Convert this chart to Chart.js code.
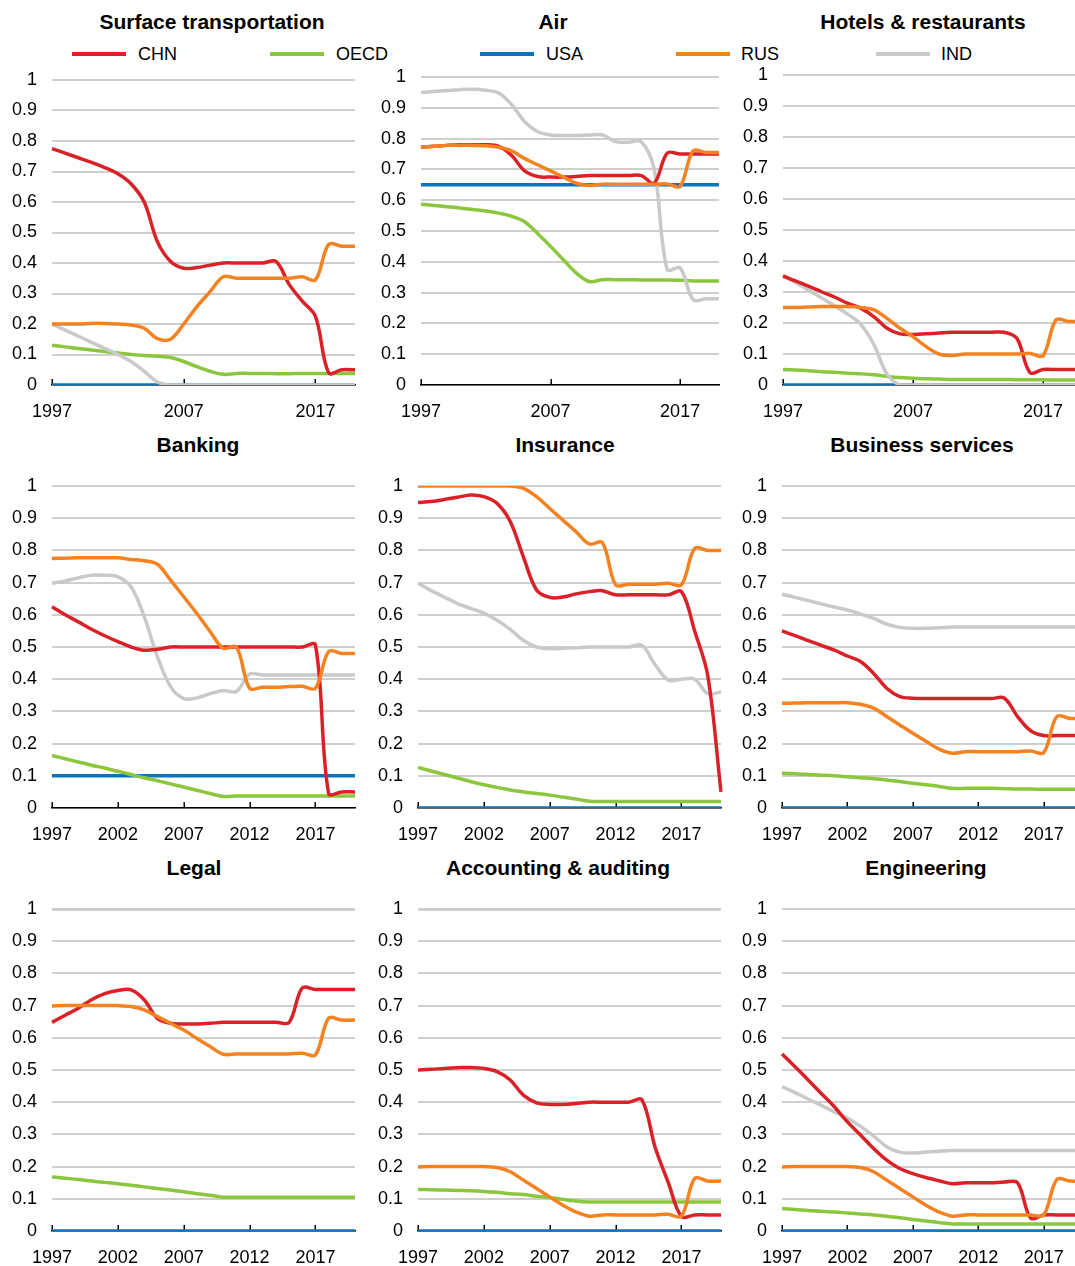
<!DOCTYPE html>
<html><head><meta charset="utf-8">
<script src="https://cdn.jsdelivr.net/npm/chart.js@4.4.1/dist/chart.umd.min.js"></script>
<style>
html,body{margin:0;padding:0;background:#fff;}
body{width:1075px;height:1266px;overflow:hidden;position:relative;font-family:'Liberation Sans Narrow','Arial Narrow','Liberation Sans',sans-serif;color:#000;}
.t{position:absolute;font-weight:bold;font-size:21px;line-height:26px;transform:translateX(-50%);white-space:nowrap;}
.ll{position:absolute;height:4px;width:54px;top:52px;}
.lt{position:absolute;top:43px;font-size:18px;line-height:22px;}
canvas{position:absolute;}
</style></head><body>
<script>
const years = ['1997','1998','1999','2000','2001','2002','2003','2004','2005','2006','2007','2008','2009','2010','2011','2012','2013','2014','2015','2016','2017','2018','2019','2020'];
const seriesNames = ['CHN','OECD','USA','RUS','IND'];
const panelTitles = ['Surface transportation','Air','Hotels & restaurants','Banking','Insurance','Business services','Legal','Accounting & auditing','Engineering'];
const tickYearsTop = ['1997','2007','2017'];
const tickYearsLower = ['1997','2002','2007','2012','2017'];
const yTicks = [0,0.1,0.2,0.3,0.4,0.5,0.6,0.7,0.8,0.9,1];

// Surface transportation
const surfCHN = [0.775,0.76,0.745,0.73,0.713,0.693,0.66,0.6,0.47,0.405,0.383,0.385,0.393,0.4,0.4,0.4,0.4,0.405,0.33,0.275,0.225,0.04,0.05,0.05];
const surfOECD = [0.13,0.125,0.12,0.115,0.11,0.105,0.1,0.097,0.094,0.09,0.077,0.06,0.045,0.035,0.038,0.038,0.038,0.037,0.037,0.038,0.038,0.038,0.038,0.038];
const surfUSA = [0,0,0,0,0,0,0,0,0,0,0,0,0,0,0,0,0,0,0,0,0,0,0,0];
const surfRUS = [0.2,0.2,0.2,0.202,0.202,0.2,0.197,0.186,0.152,0.15,0.2,0.257,0.306,0.355,0.35,0.35,0.35,0.35,0.35,0.355,0.345,0.461,0.455,0.455];
const surfIND = [0.2,0.18,0.16,0.14,0.12,0.1,0.077,0.045,0.01,0,0,0,0,0,0,0,0,0,0,0,0,0,0,0];
// Air
const airCHN = [0.772,0.775,0.778,0.78,0.78,0.78,0.775,0.745,0.695,0.677,0.675,0.675,0.677,0.68,0.68,0.68,0.68,0.68,0.655,0.753,0.75,0.75,0.75,0.75];
const airOECD = [0.587,0.583,0.579,0.575,0.57,0.565,0.558,0.548,0.53,0.492,0.45,0.406,0.363,0.336,0.342,0.342,0.342,0.341,0.341,0.341,0.34,0.338,0.338,0.338];
const airUSA = [0.65,0.65,0.65,0.65,0.65,0.65,0.65,0.65,0.65,0.65,0.65,0.65,0.65,0.65,0.65,0.65,0.65,0.65,0.65,0.65,0.65,0.65,0.65,0.65];
const airRUS = [0.772,0.775,0.778,0.778,0.778,0.777,0.772,0.76,0.735,0.715,0.695,0.675,0.655,0.648,0.652,0.652,0.652,0.652,0.652,0.653,0.645,0.76,0.755,0.755];
const airIND = [0.95,0.953,0.956,0.959,0.96,0.957,0.948,0.91,0.855,0.823,0.812,0.81,0.81,0.812,0.812,0.79,0.788,0.79,0.7,0.375,0.38,0.277,0.28,0.28];
// Hotels & restaurants
const hotCHN = [0.352,0.335,0.318,0.3,0.283,0.263,0.247,0.22,0.183,0.165,0.163,0.165,0.168,0.17,0.17,0.17,0.17,0.17,0.15,0.04,0.05,0.05,0.05,0.05];
const hotOECD = [0.05,0.048,0.046,0.043,0.041,0.038,0.036,0.033,0.028,0.024,0.022,0.02,0.019,0.018,0.018,0.018,0.018,0.018,0.017,0.017,0.017,0.016,0.016,0.016];
const hotUSA = [0,0,0,0,0,0,0,0,0,0,0,0,0,0,0,0,0,0,0,0,0,0,0,0];
const hotRUS = [0.25,0.25,0.252,0.253,0.253,0.253,0.25,0.242,0.215,0.183,0.156,0.124,0.1,0.095,0.1,0.1,0.1,0.1,0.1,0.102,0.094,0.21,0.205,0.205];
const hotIND = [0.352,0.33,0.305,0.28,0.255,0.228,0.195,0.13,0.035,0,0,0,0,0,0,0,0,0,0,0,0,0,0,0];
// Banking
const bankCHN = [0.625,0.6,0.578,0.555,0.535,0.517,0.5,0.49,0.493,0.5,0.5,0.5,0.5,0.5,0.5,0.5,0.5,0.5,0.5,0.5,0.506,0.045,0.05,0.05];
const bankOECD = [0.163,0.153,0.143,0.133,0.124,0.114,0.104,0.094,0.085,0.075,0.065,0.055,0.045,0.036,0.037,0.037,0.037,0.037,0.037,0.037,0.037,0.037,0.037,0.037];
const bankUSA = [0.1,0.1,0.1,0.1,0.1,0.1,0.1,0.1,0.1,0.1,0.1,0.1,0.1,0.1,0.1,0.1,0.1,0.1,0.1,0.1,0.1,0.1,0.1,0.1];
const bankRUS = [0.775,0.776,0.777,0.777,0.777,0.777,0.772,0.768,0.757,0.708,0.656,0.604,0.548,0.496,0.5,0.372,0.375,0.375,0.377,0.378,0.372,0.486,0.48,0.48];
const bankIND = [0.698,0.705,0.715,0.723,0.723,0.718,0.687,0.594,0.47,0.377,0.34,0.342,0.355,0.365,0.362,0.416,0.413,0.413,0.413,0.413,0.413,0.413,0.413,0.413];
// Insurance
const insCHN = [0.949,0.952,0.958,0.965,0.972,0.967,0.946,0.89,0.78,0.677,0.654,0.655,0.665,0.672,0.675,0.662,0.662,0.662,0.662,0.662,0.672,0.55,0.41,0.05];
const insOECD = [0.126,0.115,0.104,0.093,0.082,0.072,0.064,0.056,0.05,0.045,0.04,0.034,0.028,0.021,0.02,0.02,0.02,0.02,0.02,0.02,0.02,0.02,0.02,0.02];
const insUSA = [0,0,0,0,0,0,0,0,0,0,0,0,0,0,0,0,0,0,0,0,0,0,0,0];
const insRUS = [1,1,1,1,1,1,1,1,0.993,0.967,0.93,0.894,0.858,0.82,0.824,0.693,0.695,0.695,0.695,0.698,0.693,0.806,0.8,0.8];
const insIND = [0.698,0.675,0.655,0.635,0.62,0.605,0.583,0.555,0.52,0.5,0.495,0.496,0.498,0.5,0.5,0.5,0.5,0.505,0.445,0.397,0.4,0.4,0.355,0.36];
// Business services
const busCHN = [0.55,0.535,0.52,0.505,0.49,0.472,0.455,0.418,0.372,0.346,0.341,0.34,0.34,0.34,0.34,0.34,0.34,0.341,0.284,0.24,0.225,0.225,0.225,0.225];
const busOECD = [0.108,0.106,0.104,0.102,0.1,0.097,0.094,0.091,0.087,0.082,0.077,0.072,0.067,0.061,0.061,0.061,0.061,0.06,0.059,0.059,0.058,0.058,0.058,0.058];
const busUSA = [0,0,0,0,0,0,0,0,0,0,0,0,0,0,0,0,0,0,0,0,0,0,0,0];
const busRUS = [0.325,0.326,0.327,0.327,0.327,0.327,0.322,0.31,0.284,0.258,0.232,0.207,0.183,0.17,0.175,0.175,0.175,0.175,0.175,0.177,0.172,0.284,0.278,0.278];
const busIND = [0.664,0.654,0.644,0.634,0.624,0.615,0.602,0.589,0.571,0.561,0.558,0.558,0.56,0.562,0.562,0.562,0.562,0.562,0.562,0.562,0.562,0.562,0.562,0.562];
// Legal
const legCHN = [0.648,0.67,0.692,0.718,0.737,0.747,0.749,0.718,0.66,0.645,0.643,0.643,0.645,0.648,0.648,0.648,0.648,0.648,0.648,0.755,0.75,0.75,0.75,0.75];
const legOECD = [0.168,0.164,0.16,0.155,0.151,0.147,0.142,0.137,0.132,0.127,0.122,0.116,0.111,0.105,0.105,0.105,0.105,0.105,0.105,0.105,0.105,0.105,0.105,0.105];
const legUSA = [0,0,0,0,0,0,0,0,0,0,0,0,0,0,0,0,0,0,0,0,0,0,0,0];
const legRUS = [0.699,0.7,0.7,0.7,0.7,0.7,0.697,0.687,0.666,0.645,0.624,0.598,0.573,0.549,0.55,0.55,0.55,0.55,0.55,0.552,0.547,0.661,0.655,0.655];
const legIND = [1,1,1,1,1,1,1,1,1,1,1,1,1,1,1,1,1,1,1,1,1,1,1,1];
// Accounting & auditing
const accCHN = [0.5,0.502,0.505,0.507,0.508,0.505,0.495,0.469,0.422,0.398,0.393,0.393,0.396,0.4,0.4,0.4,0.4,0.407,0.26,0.15,0.045,0.05,0.05,0.05];
const accOECD = [0.129,0.128,0.127,0.126,0.125,0.123,0.12,0.116,0.113,0.108,0.104,0.098,0.093,0.09,0.09,0.09,0.09,0.09,0.09,0.09,0.09,0.09,0.09,0.09];
const accUSA = [0,0,0,0,0,0,0,0,0,0,0,0,0,0,0,0,0,0,0,0,0,0,0,0];
const accRUS = [0.199,0.2,0.2,0.2,0.2,0.2,0.197,0.184,0.158,0.132,0.106,0.08,0.059,0.046,0.05,0.05,0.05,0.05,0.05,0.052,0.046,0.163,0.155,0.155];
const accIND = [1,1,1,1,1,1,1,1,1,1,1,1,1,1,1,1,1,1,1,1,1,1,1,1];
// Engineering
const engCHN = [0.55,0.51,0.469,0.427,0.386,0.339,0.298,0.256,0.22,0.194,0.178,0.166,0.156,0.147,0.15,0.15,0.15,0.152,0.15,0.04,0.05,0.05,0.05,0.05];
const engOECD = [0.07,0.067,0.064,0.061,0.059,0.056,0.053,0.05,0.046,0.041,0.036,0.031,0.026,0.022,0.022,0.022,0.022,0.022,0.022,0.022,0.022,0.022,0.022,0.022];
const engUSA = [0,0,0,0,0,0,0,0,0,0,0,0,0,0,0,0,0,0,0,0,0,0,0,0];
const engRUS = [0.199,0.2,0.2,0.2,0.2,0.2,0.197,0.184,0.158,0.132,0.106,0.08,0.059,0.046,0.05,0.05,0.05,0.05,0.05,0.05,0.05,0.16,0.155,0.155];
const engIND = [0.448,0.43,0.41,0.39,0.37,0.35,0.325,0.295,0.262,0.245,0.242,0.245,0.248,0.25,0.25,0.25,0.25,0.25,0.25,0.25,0.25,0.25,0.25,0.25];

const panelData = [
  [surfCHN,surfOECD,surfUSA,surfRUS,surfIND],
  [airCHN,airOECD,airUSA,airRUS,airIND],
  [hotCHN,hotOECD,hotUSA,hotRUS,hotIND],
  [bankCHN,bankOECD,bankUSA,bankRUS,bankIND],
  [insCHN,insOECD,insUSA,insRUS,insIND],
  [busCHN,busOECD,busUSA,busRUS,busIND],
  [legCHN,legOECD,legUSA,legRUS,legIND],
  [accCHN,accOECD,accUSA,accRUS,accIND],
  [engCHN,engOECD,engUSA,engRUS,engIND]
];

// styling / layout (not data)
const colors = {CHN:'#DA2128',OECD:'#8CC63F',USA:'#0A74BC',RUS:'#F58220',IND:'#C9C9C9'};
const drawOrder = {CHN:1,OECD:3,USA:4,RUS:0,IND:2};
const FONT = "'Liberation Sans Narrow','Arial Narrow','Liberation Sans',sans-serif";
// plot rectangles [left,right,top,bottom]
const rects = [
  [52,355,80,385],[421,719,77,385],[783,1082,75,385],
  [52,355,486,808],[418,721,486,808],[782,1083,486,808],
  [52,355,909,1231],[418,721,909,1231],[782,1083,909,1231]
];
const titlePos = [[212,22],[553,22],[923,22],[198,445],[565,445],[922,445],[194,868],[558,868],[926,868]];
const legendPos = [[72,138],[270,336],[480,546],[676,741],[876,941]];

// legend
seriesNames.forEach((n,i)=>{
  const l=document.createElement('div'); l.className='ll'; l.style.left=legendPos[i][0]+'px'; l.style.background=colors[n]; document.body.appendChild(l);
  const t=document.createElement('div'); t.className='lt'; t.style.left=legendPos[i][1]+'px'; t.textContent=n; document.body.appendChild(t);
});

const upTicks = {
  id:'upTicks',
  beforeDatasetsDraw(chart, args, opts){
    const xs=chart.scales.x, ys=chart.scales.y, ctx=chart.ctx;
    const base=ys.getPixelForValue(0);
    ctx.save(); ctx.strokeStyle='#000'; ctx.lineWidth=1.5;
    opts.show.forEach(yr=>{
      const px=Math.round(xs.getPixelForValue(years.indexOf(yr)))+0.25;
      ctx.beginPath(); ctx.moveTo(px,base); ctx.lineTo(px,base-6); ctx.stroke();
    });
    ctx.restore();
  }
};

const TOPPAD=12, RPAD=6, YW=52, XH=44;
panelData.forEach((series,p)=>{
  const [pl,pr,pt,pb]=rects[p];
  const tt=document.createElement('div'); tt.className='t'; tt.textContent=panelTitles[p];
  tt.style.left=titlePos[p][0]+'px'; tt.style.top=(titlePos[p][1]-13)+'px'; document.body.appendChild(tt);
  const cv=document.createElement('canvas');
  const w=(pr-pl)+YW+RPAD, h=(pb-pt)+TOPPAD+XH;
  cv.width=w; cv.height=h; cv.style.width=w+'px'; cv.style.height=h+'px';
  cv.style.left=(pl-YW)+'px'; cv.style.top=(pt-TOPPAD)+'px';
  document.body.appendChild(cv);
  const show = p<3 ? tickYearsTop : tickYearsLower;
  new Chart(cv,{
    type:'line',
    data:{labels:years, datasets: seriesNames.map((n,i)=>({
      label:n, data:series[i], borderColor:colors[n], backgroundColor:colors[n],
      borderWidth:3.5, pointRadius:0, tension:0.35, fill:false, order:drawOrder[n],
      borderCapStyle:'butt'
    }))},
    options:{
      responsive:false, animation:false, devicePixelRatio:1,
      layout:{padding:{left:0,right:RPAD,top:TOPPAD,bottom:0}},
      plugins:{legend:{display:false},tooltip:{enabled:false},title:{display:false},upTicks:{show}},
      scales:{
        x:{type:'category', offset:false,
          grid:{display:false,drawTicks:false},
          border:{display:true,color:'#000',width:1.5},
          ticks:{autoSkip:false,maxRotation:0,minRotation:0,padding:16,color:'#000',font:{family:FONT,size:18},
            callback:(v,i)=> show.includes(years[i]) ? years[i] : ''},
          afterFit:s=>{s.height=XH; s.paddingLeft=0; s.paddingRight=0;}
        },
        y:{min:0,max:1,
          afterBuildTicks:s=>{s.ticks=yTicks.map(v=>({value:v}));},
          grid:{color:'#CFCFCF',lineWidth:2,drawTicks:false},
          border:{display:false},
          ticks:{padding:15,color:'#000',font:{family:FONT,size:18},
            callback:v=>String(Math.round(v*10)/10)},
          afterFit:s=>{s.width=YW; s.paddingTop=0; s.paddingBottom=0;}
        }
      }
    },
    plugins:[upTicks]
  });
});
</script>
</body></html>
